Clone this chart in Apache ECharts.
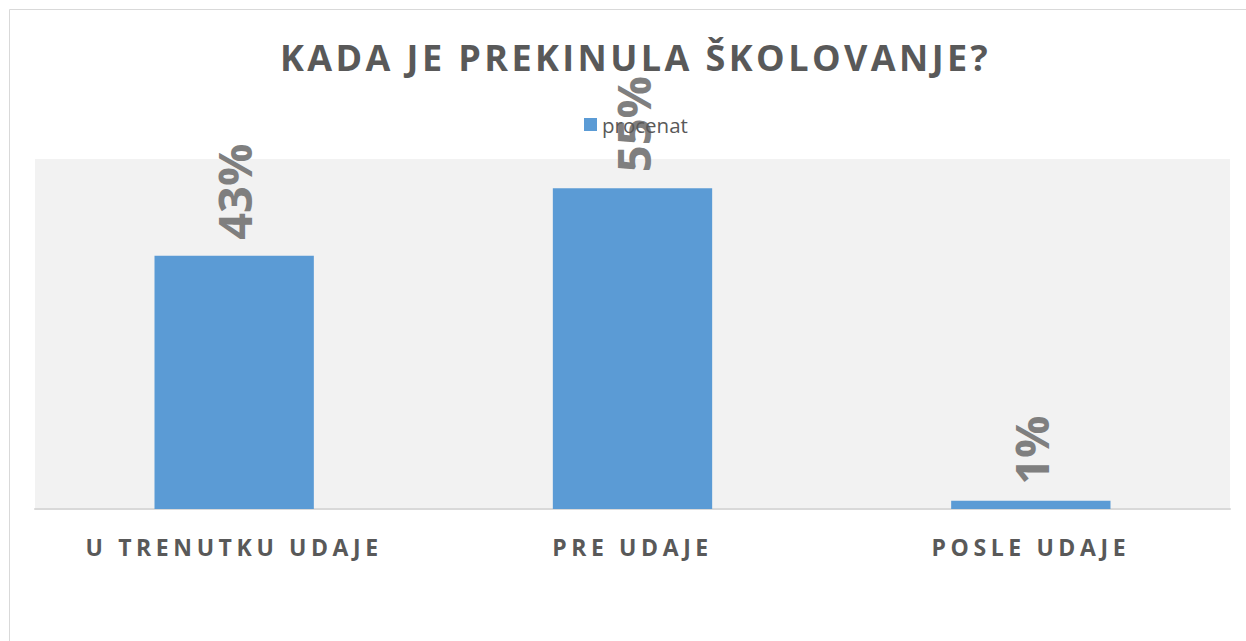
<!DOCTYPE html>
<html>
<head>
<meta charset="utf-8">
<script src="https://cdn.jsdelivr.net/npm/echarts@6/dist/echarts.min.js"></script>
<style>
html, body { margin: 0; padding: 0; background: #ffffff; }
#chart { width: 1246px; height: 641px; }
#chart text[style*="36px"] { letter-spacing: 3.4px; }
#chart text[style*="23px"] { letter-spacing: 4.6px; }
</style>
</head>
<body>
<div id="chart"></div>
<script>
const titleText = 'KADA JE PREKINULA ŠKOLOVANJE?';
const seriesName = 'procenat';
const categories = ['U TRENUTKU UDAJE', 'PRE UDAJE', 'POSLE UDAJE'];
const values = [0.434, 0.55, 0.014];

const chart = echarts.init(document.getElementById('chart'), null, { renderer: 'svg' });
chart.setOption({
  backgroundColor: '#ffffff',
  animation: false,
  graphic: [{
    type: 'rect',
    shape: { x: 9.5, y: 9.5, width: 1260, height: 660 },
    style: { fill: 'none', stroke: '#d9d9d9', lineWidth: 1 },
    z: -10
  }],
  title: {
    text: titleText,
    left: 275,
    top: 34,
    textStyle: { fontFamily: 'Open Sans', fontWeight: 'bold', fontSize: 36, color: '#595959' }
  },
  legend: {
    data: [seriesName],
    left: 579,
    top: 109,
    itemWidth: 13,
    itemHeight: 13,
    itemGap: 5,
    icon: 'rect',
    textStyle: { fontFamily: 'Open Sans', fontSize: 20.5, color: '#595959' }
  },
  grid: {
    left: 35, right: 16, top: 159, bottom: 132,
    show: true, backgroundColor: '#f2f2f2', borderWidth: 0
  },
  xAxis: {
    type: 'category',
    data: categories,
    axisLine: { show: true, lineStyle: { color: '#d9d9d9', width: 2 } },
    axisTick: { show: false },
    axisLabel: {
      interval: 0, margin: 26,
      fontFamily: 'Open Sans', fontWeight: 'bold', fontSize: 23, color: '#595959'
    }
  },
  yAxis: {
    type: 'value', min: 0, max: 0.6, show: false,
    splitLine: { show: false }
  },
  series: [{
    name: seriesName,
    type: 'bar',
    data: values,
    barWidth: '40%',
    itemStyle: { color: '#5b9bd5' },
    label: {
      show: true,
      position: 'top',
      rotate: 90,
      align: 'left',
      verticalAlign: 'middle',
      distance: 16,
      formatter: p => Math.round(p.value * 100) + '%',
      fontFamily: 'Open Sans', fontWeight: 'bold', fontSize: 47, color: '#7f7f7f'
    }
  }]
});
</script>
</body>
</html>
